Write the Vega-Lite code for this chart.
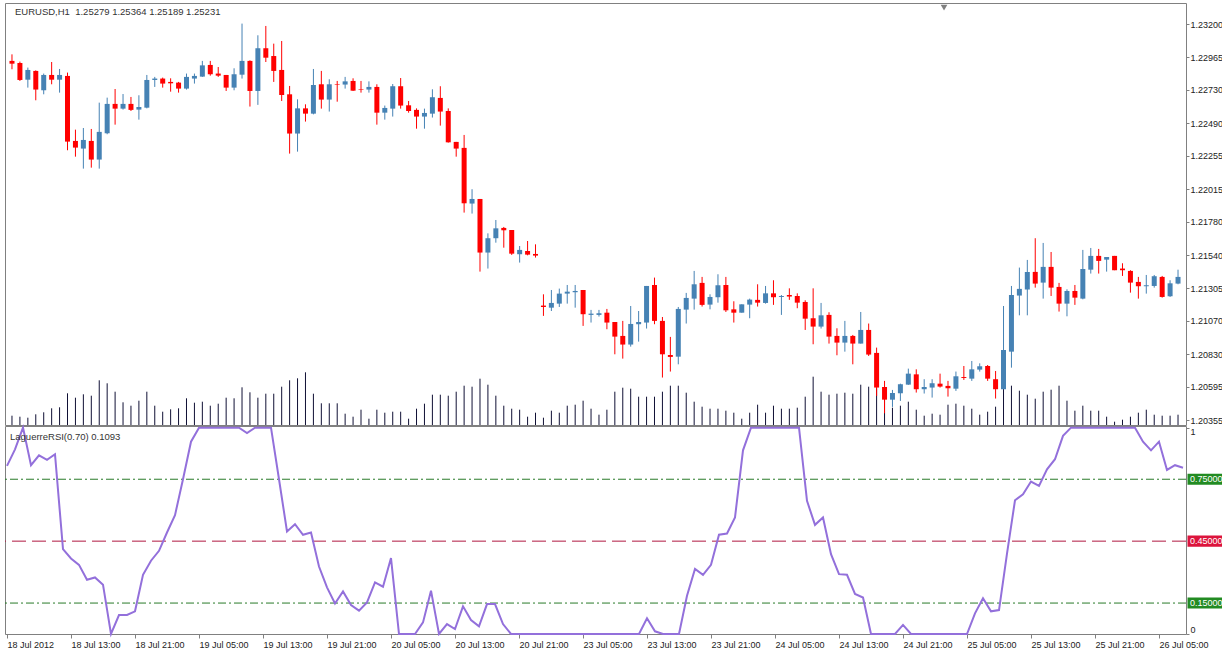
{
  "$schema": "https://vega.github.io/schema/vega-lite/v6.json",
  "background": "white",
  "padding": {"left": 2, "top": 2, "right": 0, "bottom": 0},
  "spacing": 1,
  "bounds": "flush",
  "config": {
    "font": "Liberation Sans",
    "view": {"stroke": "#808080", "strokeWidth": 1},
    "axis": {"labelFont": "Liberation Sans", "labelFontSize": 9, "labelColor": "#222222", "tickColor": "#808080", "domain": false, "grid": false}
  },
  "datasets": {
    "bars": [
      {"i":0,"o":1.22937,"h":1.22984,"l":1.22877,"c":1.22917,"v":93,"r":0.815},
      {"i":1,"o":1.22922,"h":1.22932,"l":1.22793,"c":1.22800,"v":83,"r":0.895},
      {"i":2,"o":1.22802,"h":1.22889,"l":1.22745,"c":1.22872,"v":73,"r":1.0},
      {"i":3,"o":1.22865,"h":1.22869,"l":1.22654,"c":1.22731,"v":107,"r":0.818},
      {"i":4,"o":1.22726,"h":1.22846,"l":1.22697,"c":1.22836,"v":127,"r":0.866},
      {"i":5,"o":1.22836,"h":1.22929,"l":1.22769,"c":1.22802,"v":167,"r":0.844},
      {"i":6,"o":1.22802,"h":1.22879,"l":1.22709,"c":1.22836,"v":177,"r":0.871},
      {"i":7,"o":1.22829,"h":1.22853,"l":1.22295,"c":1.22357,"v":317,"r":0.411},
      {"i":8,"o":1.22362,"h":1.22443,"l":1.22249,"c":1.22314,"v":273,"r":0.366},
      {"i":9,"o":1.22307,"h":1.22455,"l":1.22163,"c":1.22369,"v":307,"r":0.335},
      {"i":10,"o":1.22362,"h":1.22448,"l":1.22170,"c":1.22228,"v":293,"r":0.263},
      {"i":11,"o":1.22228,"h":1.22637,"l":1.22163,"c":1.22427,"v":447,"r":0.274},
      {"i":12,"o":1.22417,"h":1.22673,"l":1.22410,"c":1.22628,"v":417,"r":0.239},
      {"i":13,"o":1.22628,"h":1.22735,"l":1.22479,"c":1.22594,"v":333,"r":0},
      {"i":14,"o":1.22594,"h":1.22699,"l":1.22587,"c":1.22628,"v":227,"r":0.092},
      {"i":15,"o":1.22628,"h":1.22678,"l":1.22577,"c":1.22585,"v":193,"r":0.092},
      {"i":16,"o":1.22587,"h":1.22690,"l":1.22515,"c":1.22606,"v":243,"r":0.110},
      {"i":17,"o":1.22601,"h":1.22836,"l":1.22596,"c":1.22800,"v":333,"r":0.287},
      {"i":18,"o":1.22800,"h":1.22822,"l":1.22750,"c":1.22810,"v":193,"r":0.355},
      {"i":19,"o":1.22810,"h":1.22817,"l":1.22745,"c":1.22774,"v":133,"r":0.403},
      {"i":20,"o":1.22786,"h":1.22812,"l":1.22716,"c":1.22776,"v":157,"r":0.492},
      {"i":21,"o":1.22781,"h":1.22786,"l":1.22709,"c":1.22738,"v":167,"r":0.576},
      {"i":22,"o":1.22738,"h":1.22846,"l":1.22731,"c":1.22822,"v":267,"r":0.75},
      {"i":23,"o":1.22810,"h":1.22846,"l":1.22774,"c":1.22829,"v":223,"r":0.932},
      {"i":24,"o":1.22824,"h":1.22937,"l":1.22822,"c":1.22905,"v":233,"r":1},
      {"i":25,"o":1.22908,"h":1.22937,"l":1.22831,"c":1.22841,"v":193,"r":1},
      {"i":26,"o":1.22846,"h":1.22893,"l":1.22822,"c":1.22831,"v":213,"r":1},
      {"i":27,"o":1.22836,"h":1.22836,"l":1.22721,"c":1.22745,"v":273,"r":1},
      {"i":28,"o":1.22745,"h":1.22884,"l":1.22726,"c":1.22841,"v":267,"r":1},
      {"i":29,"o":1.22838,"h":1.23205,"l":1.22810,"c":1.22937,"v":377,"r":1},
      {"i":30,"o":1.22937,"h":1.22941,"l":1.22609,"c":1.22721,"v":327,"r":0.974},
      {"i":31,"o":1.22721,"h":1.23121,"l":1.22621,"c":1.23028,"v":273,"r":1},
      {"i":32,"o":1.23028,"h":1.23188,"l":1.22929,"c":1.22960,"v":313,"r":1},
      {"i":33,"o":1.22972,"h":1.23061,"l":1.22786,"c":1.22865,"v":313,"r":1},
      {"i":34,"o":1.22872,"h":1.23080,"l":1.22649,"c":1.22692,"v":383,"r":0.75},
      {"i":35,"o":1.22697,"h":1.22757,"l":1.22271,"c":1.22415,"v":447,"r":0.497},
      {"i":36,"o":1.22415,"h":1.22661,"l":1.22285,"c":1.22596,"v":467,"r":0.532},
      {"i":37,"o":1.22596,"h":1.22625,"l":1.22501,"c":1.22558,"v":527,"r":0.481},
      {"i":38,"o":1.22558,"h":1.22879,"l":1.22553,"c":1.22764,"v":313,"r":0.492},
      {"i":39,"o":1.22769,"h":1.22865,"l":1.22594,"c":1.22659,"v":217,"r":0.327},
      {"i":40,"o":1.22659,"h":1.22805,"l":1.22573,"c":1.22769,"v":217,"r":0.226},
      {"i":41,"o":1.22771,"h":1.22793,"l":1.22644,"c":1.22767,"v":217,"r":0.148},
      {"i":42,"o":1.22767,"h":1.22822,"l":1.22738,"c":1.22790,"v":113,"r":0.206},
      {"i":43,"o":1.22793,"h":1.22812,"l":1.22721,"c":1.22723,"v":83,"r":0.140},
      {"i":44,"o":1.22735,"h":1.22793,"l":1.22709,"c":1.22731,"v":153,"r":0.113},
      {"i":45,"o":1.22731,"h":1.22790,"l":1.22709,"c":1.22750,"v":63,"r":0.153},
      {"i":46,"o":1.22750,"h":1.22769,"l":1.22479,"c":1.22565,"v":153,"r":0.25},
      {"i":47,"o":1.22565,"h":1.22616,"l":1.22515,"c":1.22599,"v":123,"r":0.229},
      {"i":48,"o":1.22594,"h":1.22771,"l":1.22537,"c":1.22755,"v":133,"r":0.368},
      {"i":49,"o":1.22755,"h":1.22814,"l":1.22594,"c":1.22616,"v":133,"r":0},
      {"i":50,"o":1.22618,"h":1.22649,"l":1.22565,"c":1.22577,"v":63,"r":0},
      {"i":51,"o":1.22585,"h":1.22596,"l":1.22450,"c":1.22537,"v":163,"r":0},
      {"i":52,"o":1.22537,"h":1.22594,"l":1.22450,"c":1.22563,"v":213,"r":0.056},
      {"i":53,"o":1.22558,"h":1.22733,"l":1.22530,"c":1.22676,"v":303,"r":0.21},
      {"i":54,"o":1.22671,"h":1.22755,"l":1.22472,"c":1.22573,"v":303,"r":0},
      {"i":55,"o":1.22577,"h":1.22596,"l":1.22350,"c":1.22352,"v":293,"r":0.048},
      {"i":56,"o":1.22355,"h":1.22355,"l":1.22249,"c":1.22307,"v":333,"r":0.024},
      {"i":57,"o":1.22312,"h":1.22405,"l":1.21847,"c":1.21914,"v":393,"r":0.134},
      {"i":58,"o":1.21912,"h":1.22015,"l":1.21840,"c":1.21945,"v":383,"r":0.068},
      {"i":59,"o":1.21945,"h":1.21945,"l":1.21423,"c":1.21560,"v":463,"r":0.037},
      {"i":60,"o":1.21560,"h":1.21698,"l":1.21445,"c":1.21663,"v":403,"r":0.145},
      {"i":61,"o":1.21663,"h":1.21794,"l":1.21631,"c":1.21734,"v":293,"r":0.145},
      {"i":62,"o":1.21737,"h":1.21744,"l":1.21595,"c":1.21720,"v":193,"r":0.048},
      {"i":63,"o":1.21722,"h":1.21722,"l":1.21543,"c":1.21552,"v":163,"r":0},
      {"i":64,"o":1.21548,"h":1.21607,"l":1.21488,"c":1.21579,"v":153,"r":0},
      {"i":65,"o":1.21571,"h":1.21643,"l":1.21540,"c":1.21545,"v":83,"r":0},
      {"i":66,"o":1.21550,"h":1.21619,"l":1.21524,"c":1.21538,"v":123,"r":0},
      {"i":67,"o":1.21179,"h":1.21260,"l":1.21105,"c":1.21169,"v":73,"r":0},
      {"i":68,"o":1.21164,"h":1.21291,"l":1.21140,"c":1.21198,"v":143,"r":0},
      {"i":69,"o":1.21193,"h":1.21301,"l":1.21169,"c":1.21265,"v":123,"r":0},
      {"i":70,"o":1.21265,"h":1.21327,"l":1.21193,"c":1.21279,"v":193,"r":0},
      {"i":71,"o":1.21275,"h":1.21327,"l":1.21164,"c":1.21284,"v":203,"r":0},
      {"i":72,"o":1.21291,"h":1.21291,"l":1.21033,"c":1.21117,"v":243,"r":0},
      {"i":73,"o":1.21112,"h":1.21148,"l":1.21057,"c":1.21121,"v":163,"r":0},
      {"i":74,"o":1.21112,"h":1.21148,"l":1.21100,"c":1.21124,"v":103,"r":0},
      {"i":75,"o":1.21128,"h":1.21155,"l":1.21009,"c":1.21057,"v":153,"r":0},
      {"i":76,"o":1.21061,"h":1.21061,"l":1.20829,"c":1.20956,"v":333,"r":0},
      {"i":77,"o":1.20961,"h":1.21069,"l":1.20798,"c":1.20899,"v":373,"r":0},
      {"i":78,"o":1.20899,"h":1.21176,"l":1.20884,"c":1.21047,"v":363,"r":0},
      {"i":79,"o":1.21045,"h":1.21140,"l":1.20920,"c":1.21061,"v":283,"r":0},
      {"i":80,"o":1.21057,"h":1.21320,"l":1.21014,"c":1.21320,"v":283,"r":0.076},
      {"i":81,"o":1.21327,"h":1.21380,"l":1.21045,"c":1.21069,"v":283,"r":0.013},
      {"i":82,"o":1.21069,"h":1.21097,"l":1.20662,"c":1.20829,"v":333,"r":0},
      {"i":83,"o":1.20824,"h":1.20954,"l":1.20705,"c":1.20810,"v":393,"r":0},
      {"i":84,"o":1.20812,"h":1.21169,"l":1.20757,"c":1.21155,"v":393,"r":0},
      {"i":85,"o":1.21150,"h":1.21270,"l":1.21050,"c":1.21234,"v":323,"r":0.185},
      {"i":86,"o":1.21229,"h":1.21428,"l":1.21150,"c":1.21332,"v":233,"r":0.315},
      {"i":87,"o":1.21342,"h":1.21385,"l":1.21172,"c":1.21184,"v":183,"r":0.287},
      {"i":88,"o":1.21186,"h":1.21260,"l":1.21152,"c":1.21241,"v":163,"r":0.335},
      {"i":89,"o":1.21239,"h":1.21404,"l":1.21200,"c":1.21325,"v":163,"r":0.481},
      {"i":90,"o":1.21327,"h":1.21385,"l":1.21133,"c":1.21145,"v":143,"r":0.487},
      {"i":91,"o":1.21152,"h":1.21210,"l":1.21057,"c":1.21128,"v":123,"r":0.565},
      {"i":92,"o":1.21128,"h":1.21188,"l":1.21128,"c":1.21188,"v":63,"r":0.89},
      {"i":93,"o":1.21186,"h":1.21229,"l":1.21088,"c":1.21222,"v":123,"r":1},
      {"i":94,"o":1.21220,"h":1.21332,"l":1.21172,"c":1.21200,"v":203,"r":1},
      {"i":95,"o":1.21198,"h":1.21320,"l":1.21193,"c":1.21267,"v":123,"r":1},
      {"i":96,"o":1.21267,"h":1.21361,"l":1.21184,"c":1.21239,"v":193,"r":1},
      {"i":97,"o":1.21241,"h":1.21255,"l":1.21112,"c":1.21248,"v":163,"r":1},
      {"i":98,"o":1.21255,"h":1.21303,"l":1.21220,"c":1.21244,"v":163,"r":1},
      {"i":99,"o":1.21248,"h":1.21267,"l":1.21160,"c":1.21200,"v":173,"r":1},
      {"i":100,"o":1.21205,"h":1.21217,"l":1.21004,"c":1.21085,"v":283,"r":0.645},
      {"i":101,"o":1.21088,"h":1.21303,"l":1.20901,"c":1.21028,"v":483,"r":0.529},
      {"i":102,"o":1.21028,"h":1.21198,"l":1.21014,"c":1.21109,"v":333,"r":0.565},
      {"i":103,"o":1.21112,"h":1.21131,"l":1.20906,"c":1.20956,"v":303,"r":0.387},
      {"i":104,"o":1.20961,"h":1.21016,"l":1.20822,"c":1.20913,"v":313,"r":0.29},
      {"i":105,"o":1.20913,"h":1.21069,"l":1.20848,"c":1.20961,"v":323,"r":0.287},
      {"i":106,"o":1.20961,"h":1.20968,"l":1.20757,"c":1.20906,"v":313,"r":0.194},
      {"i":107,"o":1.20906,"h":1.21133,"l":1.20906,"c":1.21004,"v":403,"r":0.177},
      {"i":108,"o":1.21004,"h":1.21050,"l":1.20817,"c":1.20827,"v":383,"r":0},
      {"i":109,"o":1.20839,"h":1.20877,"l":1.20530,"c":1.20590,"v":367,"r":0},
      {"i":110,"o":1.20594,"h":1.20638,"l":1.20405,"c":1.20503,"v":283,"r":0},
      {"i":111,"o":1.20503,"h":1.20573,"l":1.20451,"c":1.20551,"v":173,"r":0},
      {"i":112,"o":1.20549,"h":1.20618,"l":1.20494,"c":1.20614,"v":193,"r":0.044},
      {"i":113,"o":1.20611,"h":1.20726,"l":1.20609,"c":1.20690,"v":233,"r":0},
      {"i":114,"o":1.20685,"h":1.20721,"l":1.20554,"c":1.20578,"v":153,"r":0},
      {"i":115,"o":1.20578,"h":1.20650,"l":1.20547,"c":1.20594,"v":93,"r":0},
      {"i":116,"o":1.20590,"h":1.20650,"l":1.20518,"c":1.20621,"v":113,"r":0},
      {"i":117,"o":1.20618,"h":1.20690,"l":1.20590,"c":1.20597,"v":103,"r":0},
      {"i":118,"o":1.20602,"h":1.20638,"l":1.20525,"c":1.20585,"v":203,"r":0},
      {"i":119,"o":1.20582,"h":1.20705,"l":1.20566,"c":1.20671,"v":213,"r":0},
      {"i":120,"o":1.20666,"h":1.20745,"l":1.20645,"c":1.20659,"v":193,"r":0},
      {"i":121,"o":1.20654,"h":1.20781,"l":1.20638,"c":1.20721,"v":163,"r":0.1},
      {"i":122,"o":1.20719,"h":1.20764,"l":1.20705,"c":1.20743,"v":103,"r":0.173},
      {"i":123,"o":1.20745,"h":1.20752,"l":1.20638,"c":1.20654,"v":133,"r":0.11},
      {"i":124,"o":1.20650,"h":1.20709,"l":1.20511,"c":1.20578,"v":183,"r":0.116},
      {"i":125,"o":1.20578,"h":1.21176,"l":1.20578,"c":1.20860,"v":367,"r":0.39},
      {"i":126,"o":1.20848,"h":1.21320,"l":1.20733,"c":1.21255,"v":393,"r":0.648},
      {"i":127,"o":1.21251,"h":1.21452,"l":1.21109,"c":1.21299,"v":343,"r":0.677},
      {"i":128,"o":1.21294,"h":1.21507,"l":1.21109,"c":1.21421,"v":303,"r":0.739},
      {"i":129,"o":1.21421,"h":1.21663,"l":1.21308,"c":1.21337,"v":263,"r":0.718},
      {"i":130,"o":1.21344,"h":1.21629,"l":1.21229,"c":1.21457,"v":333,"r":0.798},
      {"i":131,"o":1.21457,"h":1.21564,"l":1.21248,"c":1.21308,"v":353,"r":0.847},
      {"i":132,"o":1.21313,"h":1.21342,"l":1.21136,"c":1.21193,"v":393,"r":0.96},
      {"i":133,"o":1.21193,"h":1.21296,"l":1.21102,"c":1.21284,"v":243,"r":1},
      {"i":134,"o":1.21284,"h":1.21327,"l":1.21184,"c":1.21236,"v":143,"r":1},
      {"i":135,"o":1.21229,"h":1.21579,"l":1.21224,"c":1.21442,"v":193,"r":1},
      {"i":136,"o":1.21437,"h":1.21593,"l":1.21409,"c":1.21536,"v":143,"r":1},
      {"i":137,"o":1.21536,"h":1.21586,"l":1.21409,"c":1.21500,"v":143,"r":1},
      {"i":138,"o":1.21509,"h":1.21528,"l":1.21423,"c":1.21528,"v":83,"r":1},
      {"i":139,"o":1.21536,"h":1.21536,"l":1.21433,"c":1.21433,"v":33,"r":1},
      {"i":140,"o":1.21445,"h":1.21483,"l":1.21392,"c":1.21433,"v":53,"r":1},
      {"i":141,"o":1.21428,"h":1.21433,"l":1.21272,"c":1.21344,"v":83,"r":1},
      {"i":142,"o":1.21349,"h":1.21385,"l":1.21229,"c":1.21318,"v":123,"r":0.932},
      {"i":143,"o":1.21318,"h":1.21399,"l":1.21265,"c":1.21325,"v":153,"r":0.89},
      {"i":144,"o":1.21320,"h":1.21399,"l":1.21308,"c":1.21390,"v":103,"r":0.932},
      {"i":145,"o":1.21385,"h":1.21392,"l":1.21236,"c":1.21241,"v":93,"r":0.795},
      {"i":146,"o":1.21246,"h":1.21361,"l":1.21241,"c":1.21339,"v":93,"r":0.818},
      {"i":147,"o":1.21337,"h":1.21437,"l":1.21332,"c":1.21385,"v":103,"r":0.806}
    ],
    "levels": [
      {"lv": 0.75, "lab": "0.75000", "kind": "g"},
      {"lv": 0.45, "lab": "0.45000", "kind": "r"},
      {"lv": 0.15, "lab": "0.15000", "kind": "g"}
    ]
  },
  "vconcat": [
    {
      "width": 1181,
      "height": 422,
      "data": {"name": "bars"},
      "resolve": {"scale": {"y": "independent"}},
      "layer": [
        {
          "mark": {"type": "rule", "color": "#101035", "strokeWidth": 1},
          "encoding": {
            "x": {"field": "i", "type": "quantitative", "scale": {"domain": [-0.25, 147.375], "nice": false, "zero": false}, "axis": null},
            "y": {"field": "v", "type": "quantitative", "scale": {"domain": [0, 4220], "nice": false}, "axis": null},
            "y2": {"datum": 0}
          }
        },
        {
          "mark": {"type": "rule", "strokeWidth": 1},
          "encoding": {
            "x": {"field": "i", "type": "quantitative"},
            "y": {
              "field": "l", "type": "quantitative",
              "scale": {"domain": [1.20321, 1.23353], "nice": false, "zero": false},
              "axis": {"orient": "right", "title": null, "values": [1.20355, 1.20595, 1.2083, 1.2107, 1.21305, 1.2154, 1.2178, 1.22015, 1.22255, 1.2249, 1.2273, 1.22965, 1.232], "format": ".5f", "tickSize": 3, "labelPadding": 1, "labelOverlap": false, "labelBound": false}
            },
            "y2": {"field": "h"},
            "color": {"condition": {"test": "datum.c >= datum.o", "value": "#4682B4"}, "value": "#FF0000"}
          }
        },
        {
          "mark": {"type": "bar", "width": 5},
          "encoding": {
            "x": {"field": "i", "type": "quantitative"},
            "y": {"field": "o", "type": "quantitative", "scale": {"domain": [1.20321, 1.23353], "nice": false, "zero": false}, "axis": null},
            "y2": {"field": "c"},
            "color": {"condition": {"test": "datum.c >= datum.o", "value": "#4682B4"}, "value": "#FF0000"}
          }
        },
        {
          "data": {"values": [{"t": "EURUSD,H1 \u00a01.25279 1.25364 1.25189 1.25231"}]},
          "mark": {"type": "text", "align": "left", "baseline": "middle", "dx": 5, "fontSize": 9.5, "color": "#333333"},
          "encoding": {
            "x": {"datum": -0.25, "type": "quantitative"},
            "y": {"datum": 1.23288, "type": "quantitative", "scale": {"domain": [1.20321, 1.23353], "nice": false, "zero": false}, "axis": null},
            "text": {"field": "t"}
          }
        },
        {
          "data": {"values": [{"t": "shift"}]},
          "mark": {"type": "point", "shape": "triangle-down", "size": 45, "filled": true, "color": "#808080", "opacity": 1},
          "encoding": {
            "x": {"datum": 117.5, "type": "quantitative"},
            "y": {"datum": 1.2332, "type": "quantitative", "scale": {"domain": [1.20321, 1.23353], "nice": false, "zero": false}, "axis": null}
          }
        }
      ]
    },
    {
      "width": 1181,
      "height": 208,
      "layer": [
        {
          "data": {"name": "levels"},
          "mark": {"type": "rule", "strokeWidth": 1},
          "encoding": {
            "y": {
              "field": "lv", "type": "quantitative",
              "scale": {"domain": [0, 1.008], "nice": false, "zero": false},
              "axis": {
                "orient": "right", "title": null, "values": [0, 1], "format": ".0f", "tickSize": 3, "labelPadding": 1,
                "labelBaseline": {"condition": {"test": "datum.value >= 1", "value": "top"}, "value": "bottom"}
              }
            },
            "color": {"condition": {"test": "datum.kind == 'g'", "value": "#287a28"}, "value": "#b01840"},
            "strokeDash": {"condition": {"test": "datum.kind == 'g'", "value": [8, 3, 2, 3]}, "value": [14, 6]}
          }
        },
        {
          "data": {"name": "bars"},
          "mark": {"type": "line", "color": "#9370DB", "strokeWidth": 2},
          "encoding": {
            "x": {
              "field": "i", "type": "quantitative",
              "scale": {"domain": [-0.25, 147.375], "nice": false, "zero": false},
              "axis": {
                "orient": "bottom", "title": null,
                "values": [0, 8, 16, 24, 32, 40, 48, 56, 64, 72, 80, 88, 96, 104, 112, 120, 128, 136, 144],
                "labelExpr": "['18 Jul 2012','18 Jul 13:00','18 Jul 21:00','19 Jul 05:00','19 Jul 13:00','19 Jul 21:00','20 Jul 05:00','20 Jul 13:00','20 Jul 21:00','23 Jul 05:00','23 Jul 13:00','23 Jul 21:00','24 Jul 05:00','24 Jul 13:00','24 Jul 21:00','25 Jul 05:00','25 Jul 13:00','25 Jul 21:00','26 Jul 05:00'][round(datum.value / 8)]",
                "labelAlign": "left", "labelDx": 1, "labelPadding": 2, "tickSize": 4, "labelOverlap": false, "labelBound": false, "labelFlush": false
              }
            },
            "y": {"field": "r", "type": "quantitative"}
          }
        },
        {
          "data": {"values": [{"t": "LaguerreRSI(0.70) 0.1093"}]},
          "mark": {"type": "text", "align": "left", "baseline": "middle", "dx": 5, "fontSize": 9.5, "color": "#333333"},
          "encoding": {
            "x": {"datum": -0.25, "type": "quantitative"},
            "y": {"datum": 0.955, "type": "quantitative"},
            "text": {"field": "t"}
          }
        },
        {
          "data": {"name": "levels"},
          "mark": {"type": "point", "shape": "M-1,-0.3L1,-0.3L1,0.3L-1,0.3Z", "size": 1369, "filled": true, "opacity": 1, "xOffset": 20, "strokeWidth": 0},
          "encoding": {
            "x": {"datum": 147.375, "type": "quantitative"},
            "y": {"field": "lv", "type": "quantitative"},
            "color": {"condition": {"test": "datum.kind == 'g'", "value": "#228B22"}, "value": "#DC143C"}
          }
        },
        {
          "data": {"name": "levels"},
          "mark": {"type": "text", "align": "left", "baseline": "middle", "dx": 4, "fontSize": 9, "color": "white"},
          "encoding": {
            "x": {"datum": 147.375, "type": "quantitative"},
            "y": {"field": "lv", "type": "quantitative"},
            "text": {"field": "lab"}
          }
        }
      ]
    }
  ]
}
